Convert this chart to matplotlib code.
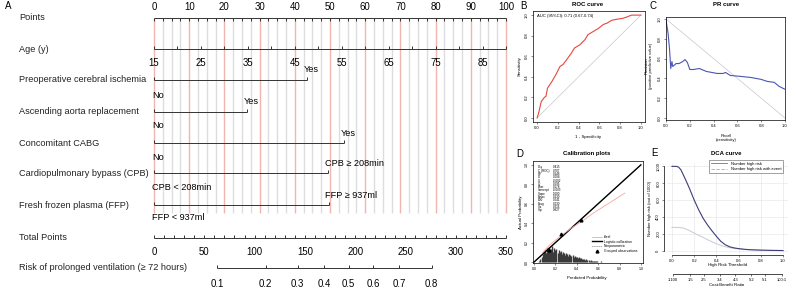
import matplotlib
matplotlib.use('Agg')
import matplotlib.pyplot as plt
import numpy as np
from matplotlib.lines import Line2D

plt.rcParams['font.family'] = ['Liberation Sans', 'DejaVu Sans']

# ---------------- data ----------------
points_labels = [0, 10, 20, 30, 40, 50, 60, 70, 80, 90, 100]
age_min, age_max = 15, 90
age_labels = [15, 25, 35, 45, 55, 65, 75, 85]
binary_names = ["Preoperative cerebral ischemia", "Ascending aorta replacement",
                "Concomitant CABG", "Cardiopulmonary bypass (CPB)",
                "Fresh frozen plasma (FFP)"]
binary_points = [43.5, 26.5, 54.0, 49.5, 49.7]
binary_low = ["No", "No", "No", "CPB < 208min", "FFP < 937ml"]
binary_high = ["Yes", "Yes", "Yes", "CPB \u2265 208min", "FFP \u2265 937ml"]
total_max = 350
total_labels = [0, 50, 100, 150, 200, 250, 300, 350]
risk_labels = [0.1, 0.2, 0.3, 0.4, 0.5, 0.6, 0.7, 0.8]
lp_intercept, lp_slope = -3.248, 0.01679

roc_fpr = [0, 0.015, 0.04, 0.07, 0.085, 0.1, 0.14, 0.18, 0.22, 0.25, 0.28, 0.33, 0.36,
           0.41, 0.46, 0.49, 0.54, 0.59, 0.64, 0.67, 0.72, 0.77, 0.83, 0.86, 0.91, 1.0]
roc_tpr = [0, 0.05, 0.16, 0.2, 0.21, 0.29, 0.35, 0.42, 0.50, 0.52, 0.56, 0.63, 0.68,
           0.71, 0.76, 0.81, 0.84, 0.87, 0.91, 0.92, 0.95, 0.96, 0.97, 0.98, 1.0, 1.0]
auc_text = "AUC (95%CI): 0.71 (0.67-0.74)"

pr_recall = [0, 0.005, 0.017, 0.03, 0.04, 0.05, 0.057, 0.085, 0.11, 0.14, 0.16, 0.18, 0.2,
             0.23, 0.28, 0.34, 0.43, 0.48, 0.5, 0.54, 0.63, 0.71, 0.8, 0.85, 0.91, 0.95, 1.0]
pr_precision = [1.0, 0.95, 0.86, 0.69, 0.50, 0.57, 0.52, 0.55, 0.55, 0.57, 0.59, 0.56, 0.49,
                0.49, 0.50, 0.47, 0.45, 0.45, 0.46, 0.43, 0.42, 0.41, 0.39, 0.37, 0.36, 0.32, 0.29]

cal_np_pred = [0.08, 0.15, 0.25, 0.35, 0.45, 0.55, 0.65, 0.75, 0.85]
cal_np_obs = [0.10, 0.18, 0.27, 0.35, 0.42, 0.50, 0.57, 0.64, 0.71]
cal_grp_pred = [0.14, 0.25, 0.435]
cal_grp_obs = [0.12, 0.29, 0.43]
hist_x = [0.05, 0.06, 0.07, 0.08, 0.09, 0.10, 0.11, 0.12, 0.13, 0.14, 0.15, 0.16, 0.17, 0.18,
          0.19, 0.20, 0.21, 0.22, 0.23, 0.24, 0.25, 0.26, 0.27, 0.28, 0.29, 0.30, 0.31, 0.32,
          0.33, 0.34, 0.35, 0.36, 0.37, 0.38, 0.39, 0.40, 0.41, 0.42, 0.43, 0.44, 0.45, 0.46,
          0.47, 0.48, 0.49, 0.50, 0.51, 0.52, 0.53, 0.54, 0.55, 0.56, 0.57, 0.58, 0.59, 0.60,
          0.63, 0.66, 0.69, 0.72, 0.76, 0.85]
hist_h = [0.01, 0.03, 0.05, 0.08, 0.10, 0.12, 0.09, 0.14, 0.11, 0.15, 0.12, 0.13, 0.16, 0.10,
          0.14, 0.12, 0.13, 0.09, 0.12, 0.10, 0.11, 0.08, 0.10, 0.09, 0.07, 0.09, 0.08, 0.06,
          0.08, 0.07, 0.06, 0.07, 0.05, 0.06, 0.05, 0.05, 0.04, 0.05, 0.04, 0.04, 0.03, 0.035,
          0.03, 0.025, 0.03, 0.02, 0.02, 0.015, 0.02, 0.01, 0.015, 0.01, 0.01, 0.008, 0.01, 0.005,
          0.006, 0.005, 0.005, 0.005, 0.005, 0.005]
stat_names = ["Dxy", "C (ROC)", "R2", "D", "U", "Q", "Brier", "Intercept", "Slope",
              "Emax", "E90", "Eavg", "S:z", "S:p"]
stat_values = ["0.415", "0.707", "0.146", "0.094", "-0.002", "0.096", "0.178", "-0.003",
               "1.000", "0.130", "0.041", "0.030", "0.216", "0.827"]

dca_thr = [0, 0.04, 0.06, 0.08, 0.10, 0.13, 0.16, 0.20, 0.24, 0.28, 0.32, 0.36, 0.40, 0.44,
           0.48, 0.52, 0.56, 0.60, 0.65, 0.70, 0.80, 0.90, 1.0]
dca_high = [1000, 1000, 990, 960, 905, 820, 730, 600, 485, 385, 305, 235, 170, 110,
            70, 45, 32, 24, 16, 11, 6, 3, 1]
dca_thr2 = [0, 0.06, 0.09, 0.12, 0.16, 0.20, 0.24, 0.28, 0.32, 0.36, 0.40, 0.45, 0.50,
            0.55, 0.60, 0.70, 0.80, 0.90, 1.0]
dca_event = [275, 275, 272, 260, 236, 208, 182, 157, 130, 105, 82, 58, 40,
             28, 20, 10, 5, 2, 1]
cb_labels = ["1:100", "1:5", "2:5", "3:4", "4:3", "5:2", "5:1", "100:1"]
cb_cost = [1, 1, 2, 3, 4, 5, 5, 100]
cb_benefit = [100, 5, 5, 4, 3, 2, 1, 1]

# ---------------- layout ----------------
W, H = 790, 289
fig = plt.figure(figsize=(W / 100, H / 100), dpi=100)

def px_axes(l, t, r, b):
    return fig.add_axes([l / W, 1 - b / H, (r - l) / W, (b - t) / H])

def ftext(x, y, s, **kw):
    fig.text(x / W, 1 - y / H, s, **kw)

# ---------------- nomogram ----------------
X0, PXPT = 154, 3.52          # pixel of 0 points, pixels per point
ax = px_axes(0, 0, 520, 289)
ax.set_xlim(-X0 / PXPT, (520 - X0) / PXPT)
ax.set_ylim(289, 0)
ax.axis('off')

def px2pt(px):
    return (px - X0) / PXPT

row_y = [18, 49, 80, 112, 143, 173, 205, 238, 268]
NFS = 6.6
VFS = 6.9
LC = '#333333'
LW = 0.7

# vertical reference lines
for v in np.arange(0, 100.01, 2.5):
    col = '#F2B6B0' if abs(v % 10) < 1e-9 else '#DDDDDD'
    ax.vlines(v, row_y[0], 213, color=col, lw=1.0, zorder=0)

# row titles
titles = ["Points", "Age (y)"] + binary_names + ["Total Points",
          "Risk of prolonged ventilation (\u2265 72 hours)"]
for y, t in zip(row_y, titles):
    ax.text(px2pt(19), y, t, fontsize=NFS, ha='left', va='center', color='#222222')
ftext(5, 6, "A", fontsize=7, ha='left', va='center')

# Points axis
y = row_y[0]
ax.hlines(y, 0, 100, color=LC, lw=LW)
ax.vlines(np.arange(0, 100.01, 2.5), y, y + 3, color=LC, lw=LW)
for v in points_labels:
    ax.text(v, y - 11, str(v), fontsize=VFS, ha='center', va='center')

# Age axis
def age2pt(a):
    return (np.asarray(a, float) - age_min) * 100.0 / (age_max - age_min)

y = row_y[1]
ax.hlines(y, age2pt(age_min), age2pt(age_max), color=LC, lw=LW)
ax.vlines(age2pt(np.arange(age_min, age_max + 0.1, 5)), y - 3, y, color=LC, lw=LW)
for a in age_labels:
    ax.text(age2pt(a), y + 14, str(a), fontsize=VFS, ha='center', va='center')

# binary variables
hi_off = [-10, -10, -10, -9, -10]
lo_off = [16, 14, 15, 14, 13]
for i, (p, lo, hi) in enumerate(zip(binary_points, binary_low, binary_high)):
    y = row_y[2 + i]
    ax.hlines(y, 0, p, color=LC, lw=LW)
    ax.vlines([0, p], y - 3, y, color=LC, lw=LW)
    ax.text(p - 1.0, y + hi_off[i], hi, fontsize=NFS, ha='left', va='center')
    ax.text(-0.6, y + lo_off[i], lo, fontsize=NFS, ha='left', va='center')

# Total points axis
def tot2pt(t):
    return np.asarray(t, float) * 100.0 / total_max

y = row_y[7]
ax.hlines(y, 0, 100, color=LC, lw=LW)
ax.vlines(tot2pt(np.arange(0, total_max + 0.1, 10)), y - 3, y, color=LC, lw=LW)
for t in total_labels:
    ax.text(tot2pt(t), y + 14, str(t), fontsize=VFS, ha='center', va='center')

# Risk axis
def risk2pt(p):
    p = np.asarray(p, float)
    lg = np.log(p / (1 - p))
    return tot2pt((lg - lp_intercept) / lp_slope)

y = row_y[8]
rp = risk2pt(risk_labels)
ax.hlines(y, rp[0], rp[-1], color=LC, lw=LW)
ax.vlines(rp, y - 3, y, color=LC, lw=LW)
for p, x in zip(risk_labels, rp):
    ax.text(x, y + 16, f"{p:.1f}", fontsize=VFS, ha='center', va='center')

# ---------------- common styling ----------------
TFS = 3.0
def style_r(a):
    a.tick_params(labelsize=TFS, length=1.6, width=0.4, pad=1.2, color='#333333')
    for s in a.spines.values():
        s.set_linewidth(0.5)
    for lab in a.get_yticklabels():
        lab.set_rotation(90)
        lab.set_va('center')

ticks01 = [0, 0.2, 0.4, 0.6, 0.8, 1.0]

# ---------------- B: ROC ----------------
axb = px_axes(533, 11, 645, 122)
axb.set_xlim(-0.04, 1.04)
axb.set_ylim(-0.04, 1.04)
axb.plot([0, 1], [0, 1], color='#C8C8C8', lw=0.5)
axb.plot(roc_fpr, roc_tpr, color='#E5473D', lw=0.8)
axb.set_xticks(ticks01)
axb.set_yticks(ticks01)
axb.set_xticklabels([f"{t:.1f}" for t in ticks01])
axb.set_yticklabels([f"{t:.1f}" for t in ticks01])
style_r(axb)
axb.text(0.0, 0.99, auc_text, fontsize=3.0, ha='left', va='center')
ftext(588, 4, "ROC curve", fontsize=4.3, fontweight='bold', ha='center', va='center')
ftext(588, 137, "1 - Specificity", fontsize=3.2, ha='center', va='center')
ftext(520, 66, "Sensitivity", fontsize=3.2, ha='center', va='center', rotation=90)
ftext(523, 6, "B", fontsize=7, ha='center', va='center')

# ---------------- C: PR ----------------
axc = px_axes(666, 17, 785, 120)
axc.set_xlim(0, 1)
axc.set_ylim(-0.02, 1.02)
axc.plot([0, 1], [1, 0], color='#C8C8C8', lw=0.5)
axc.plot(pr_recall, pr_precision, color='#4B55B5', lw=0.8)
axc.set_xticks(ticks01)
axc.set_yticks(ticks01)
axc.set_xticklabels([f"{t:.1f}" for t in ticks01])
axc.set_yticklabels([f"{t:.1f}" for t in ticks01])
style_r(axc)
ftext(726, 4, "PR curve", fontsize=4.3, fontweight='bold', ha='center', va='center')
ftext(726, 138, "Recall\n(sensitivity)", fontsize=3.0, ha='center', va='center',
      linespacing=1.1)
ftext(649, 66, "Precision\n(positive predictive value)", fontsize=3.0, ha='center',
      va='center', rotation=90, linespacing=1.1)
ftext(653, 6, "C", fontsize=7, ha='center', va='center')

# ---------------- D: Calibration ----------------
axd = px_axes(533, 161, 643, 263)
axd.set_xlim(-0.01, 1.02)
axd.set_ylim(-0.01, 1.04)
axd.vlines(hist_x, 0, hist_h, color='#3A3A3A', lw=1.0)
axd.plot([0, 1], [0, 1], color='#999999', lw=0.4)
axd.plot([0, 1], [0, 1], color='black', lw=1.0)
axd.plot(cal_np_pred, cal_np_obs, color='#F2A7A0', lw=0.6)
axd.plot(cal_grp_pred, cal_grp_obs, linestyle='none', marker='^', color='black', ms=2.0)
axd.set_xticks(ticks01)
axd.set_yticks(ticks01)
axd.set_xticklabels([f"{t:.1f}" for t in ticks01])
axd.set_yticklabels([f"{t:.1f}" for t in ticks01])
style_r(axd)
axd.tick_params(labelsize=2.5)
for k, (n, v) in enumerate(zip(stat_names, stat_values)):
    yy = 0.975 - k * 0.034
    axd.text(0.035, yy, n, fontsize=2.2, ha='left', va='center')
    axd.text(0.175, yy, v, fontsize=2.2, ha='left', va='center')
handles = [Line2D([], [], color='#999999', lw=0.4),
           Line2D([], [], color='black', lw=1.0),
           Line2D([], [], color='black', lw=0.5, linestyle=(0, (1, 2))),
           Line2D([], [], color='black', marker='^', linestyle='none', ms=2.0)]
axd.legend(handles, ["Ideal", "Logistic calibration", "Nonparametric", "Grouped observations"],
           loc='upper left', bbox_to_anchor=(590 / W, 1 - 233 / H),
           bbox_transform=fig.transFigure, fontsize=2.4, frameon=False,
           handlelength=3.0, handletextpad=0.6, labelspacing=0.25, borderpad=0)
ftext(587, 154, "Calibration plots", fontsize=4.3, fontweight='bold', ha='center', va='center')
ftext(587, 278, "Predicted Probability", fontsize=3.2, ha='center', va='center')
ftext(521, 212, "Actual Probability", fontsize=3.2, ha='center', va='center', rotation=90)
ftext(520, 154, "D", fontsize=7, ha='center', va='center')

# ---------------- E: DCA ----------------
axe = px_axes(667, 163, 788, 254)
axe.set_xlim(-0.045, 1.045)
axe.set_ylim(-40, 1040)
axe.grid(True, color='#E4E4E4', lw=0.4)
axe.set_axisbelow(True)
axe.plot(dca_thr2, dca_event, color='#CFCFDC', lw=0.8)
axe.plot(dca_thr, dca_high, color='#3D3D78', lw=0.8)
for s in ['top', 'right']:
    axe.spines[s].set_visible(False)
axe.spines['left'].set_position(('outward', 2))
axe.spines['bottom'].set_position(('outward', 1))
axe.spines['left'].set_bounds(0, 1000)
axe.spines['bottom'].set_bounds(0, 1)
axe.set_xticks(ticks01)
axe.set_xticklabels([f"{t:.1f}" for t in ticks01])
axe.set_yticks([0, 200, 400, 600, 800, 1000])
axe.set_yticklabels(["0", "200", "400", "600", "800", "1000"])
style_r(axe)
leg_h = [Line2D([], [], color='#E5473D', lw=0.6),
         Line2D([], [], color='#7FB2E0', lw=0.6, linestyle=(0, (4, 2)))]
lg = axe.legend(leg_h, ["Number high risk", "Number high risk with event"],
                loc='upper right', bbox_to_anchor=(785 / W, 1 - 158 / H),
                bbox_transform=fig.transFigure, fontsize=3.0, frameon=True,
                fancybox=False, edgecolor='#333333', handlelength=4.0,
                borderpad=0.4, labelspacing=0.3, handletextpad=0.8)
lg.get_frame().set_linewidth(0.4)

axcb = px_axes(667, 273, 788, 274)
axcb.set_xlim(-0.045, 1.045)
cb_thr = [c / (c + b) for c, b in zip(cb_cost, cb_benefit)]
axcb.set_xticks(cb_thr)
axcb.set_xticklabels(cb_labels)
axcb.set_yticks([])
for s in ['top', 'right', 'left']:
    axcb.spines[s].set_visible(False)
axcb.spines['bottom'].set_bounds(cb_thr[0], cb_thr[-1])
axcb.spines['bottom'].set_linewidth(0.5)
axcb.tick_params(labelsize=TFS, length=1.6, width=0.4, pad=1.2)
axcb.patch.set_visible(False)

ftext(726, 154, "DCA curve", fontsize=4.3, fontweight='bold', ha='center', va='center')
ftext(727, 265, "High Risk Threshold", fontsize=3.2, ha='center', va='center')
ftext(727, 285, "Cost:Benefit Ratio", fontsize=3.2, ha='center', va='center')
ftext(650, 208, "Number high risk (out of 1000)", fontsize=3.0, ha='center', va='center',
      rotation=90)
ftext(655, 153, "E", fontsize=7, ha='center', va='center')

fig.savefig('out.png', dpi=100)
